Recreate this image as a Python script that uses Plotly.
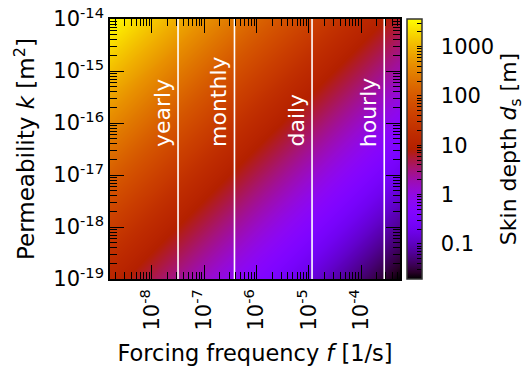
import numpy as np
import plotly.graph_objects as go

# ---- data ----
freq_grid = [1.585e-9, 1e-8, 1e-7, 1e-6, 1e-5, 1e-4, 5.56e-4]      # forcing frequency f [1/s]
perm_grid = [1e-19, 1e-18, 1e-17, 1e-16, 1e-15, 1e-14]               # permeability k [m^2]
# skin depth d_s [m], rows follow perm_grid, columns follow freq_grid
skin_depth = [
    [11.5, 4.6, 1.45, 0.46, 0.145, 0.046, 0.0194],
    [36.0, 14.5, 4.6, 1.45, 0.46, 0.145, 0.061],
    [115.0, 46.0, 14.5, 4.6, 1.45, 0.46, 0.194],
    [363.0, 145.0, 46.0, 14.5, 4.6, 1.45, 0.61],
    [1150.0, 457.0, 145.0, 46.0, 14.5, 4.6, 1.94],
    [3630.0, 1450.0, 457.0, 145.0, 46.0, 14.5, 6.1],
]
period_names = ["yearly", "monthly", "daily", "hourly"]
period_seconds = [3.156e7, 2.63e6, 86400.0, 3600.0]

x_tick_vals = [1e-8, 1e-7, 1e-6, 1e-5, 1e-4]
x_tick_labels = ["10<sup>-8</sup>", "10<sup>-7</sup>", "10<sup>-6</sup>", "10<sup>-5</sup>", "10<sup>-4</sup>"]
y_tick_vals = [1e-19, 1e-18, 1e-17, 1e-16, 1e-15, 1e-14]
y_tick_labels = ["10<sup>-19</sup>", "10<sup>-18</sup>", "10<sup>-17</sup>", "10<sup>-16</sup>",
                 "10<sup>-15</sup>", "10<sup>-14</sup>"]
cb_tick_vals = [0.1, 1, 10, 100, 1000]
cb_tick_labels = ["0.1", "1", "10", "100", "1000"]

# ---- style ----
FONT = "DejaVu Sans"


def gnuplot_scale(n=41):
    out = []
    for i in range(n):
        t = i / (n - 1)
        r = np.sqrt(t)
        g = t ** 3
        b = max(0.0, np.sin(2 * np.pi * t))
        out.append([t, f"rgb({int(round(r*255))},{int(round(g*255))},{int(round(b*255))})"])
    return out


def minor_logs(lo, hi):
    vals = []
    for n in range(int(np.floor(lo)) - 1, int(np.ceil(hi)) + 1):
        for m in range(2, 10):
            v = np.log10(m) + n
            if lo < v < hi:
                vals.append(v)
    return vals


lx = np.log10(freq_grid)
ly = np.log10(perm_grid)
lz = np.log10(np.array(skin_depth))
xr = [lx[0], lx[-1]]
yr = [ly[0], ly[-1]]
zmin, zmax = float(lz.min()), float(lz.max())

nb = "\u00a0\u00a0"
cb_minor = minor_logs(zmin, zmax)
cb_vals = list(np.log10(cb_tick_vals)) + cb_minor
cb_text = [nb + t for t in cb_tick_labels] + [""] * len(cb_minor)

fig = go.Figure()
fig.add_trace(go.Heatmap(
    x=lx, y=ly, z=lz, zsmooth="best", colorscale=gnuplot_scale(), zmin=zmin, zmax=zmax,
    showscale=True,
    colorbar=dict(
        x=(407 - 110) / 290, xanchor="left", xpad=0, y=0.5, yanchor="middle", len=1, lenmode="fraction",
        thickness=15, thicknessmode="pixels", ypad=0,
        outlinewidth=1.5, outlinecolor="#333",
        tickmode="array", tickvals=cb_vals, ticktext=cb_text,
        ticks="inside", ticklen=5, tickwidth=1, tickcolor="black",
        tickfont=dict(family=FONT, size=21, color="black"),
        title=dict(text="Skin depth <i>d</i><sub>s</sub> [m]", side="right",
                   font=dict(family=FONT, size=22, color="black")),
    ),
    hoverinfo="skip",
))

for name, T in zip(period_names, period_seconds):
    fx = np.log10(1.0 / T)
    fig.add_trace(go.Scatter(x=[fx, fx], y=yr, mode="lines",
                             line=dict(color="white", width=1.6), showlegend=False, hoverinfo="skip"))
    fig.add_annotation(x=fx, y=-16.5, xref="x", yref="y", text=name, showarrow=False,
                       textangle=-90, xanchor="center", yanchor="bottom", xshift=-16,
                       font=dict(family=FONT, size=22, color="white"))

axis_common = dict(
    showline=True, linecolor="black", linewidth=1.5, mirror="ticks",
    ticks="inside", ticklen=14, tickwidth=1.3, tickcolor="black",
    showgrid=False, zeroline=False, tickmode="array",
    tickfont=dict(family=FONT, size=21, color="black"),
)

fig.update_layout(
    width=530, height=368,
    margin=dict(l=110, r=130, t=19, b=89, autoexpand=False),
    paper_bgcolor="white", plot_bgcolor="white",
    showlegend=False,
    font=dict(family=FONT, size=21, color="black"),
    xaxis=dict(axis_common, range=xr, tickvals=list(np.log10(x_tick_vals)), ticktext=x_tick_labels,
               tickangle=-90,
               minor=dict(tickmode="array", tickvals=minor_logs(*xr), ticks="inside", ticklen=7,
                          tickwidth=1.1, tickcolor="black", showgrid=False),
               title=dict(text="Forcing frequency <i>f</i> [1/s]", standoff=16,
                          font=dict(family=FONT, size=22.5, color="black"))),
    yaxis=dict(axis_common, range=yr, tickvals=list(np.log10(y_tick_vals)), ticktext=y_tick_labels,
               minor=dict(tickmode="array", tickvals=minor_logs(*yr), ticks="inside", ticklen=7,
                          tickwidth=1.1, tickcolor="black", showgrid=False),
               title=dict(text="Permeability <i>k</i> [m<sup>2</sup>]", standoff=12,
                          font=dict(family=FONT, size=23, color="black"))),
)

fig.write_html("out.html")
